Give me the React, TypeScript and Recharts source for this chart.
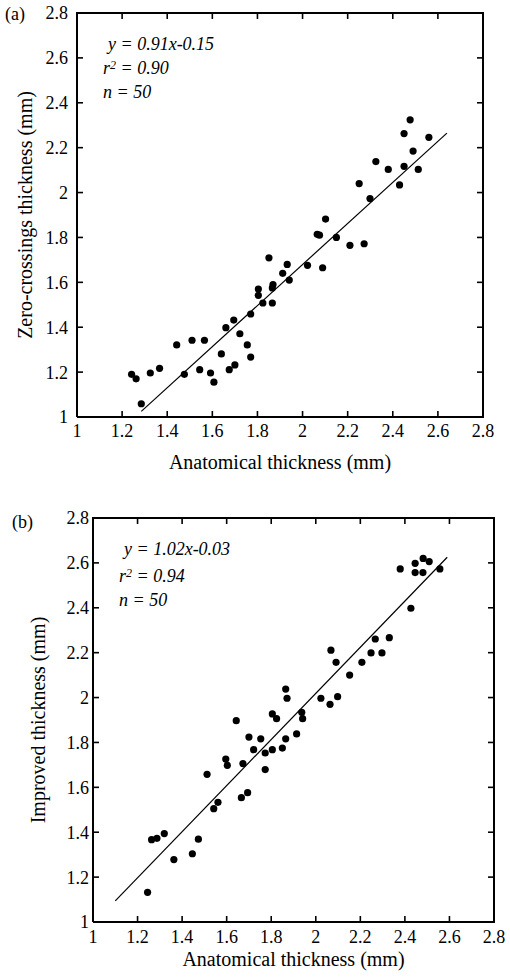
import { ScatterChart, Scatter, XAxis, YAxis, ReferenceLine } from 'recharts'

const serif = '"Liberation Serif", "Times New Roman", serif'

const axisTicks = [1, 1.2, 1.4, 1.6, 1.8, 2, 2.2, 2.4, 2.6, 2.8]
const frameX = [1, 1, 2.8, 2.8, 1]
const frameY = [1, 2.8, 2.8, 1, 1]

// panel (a): anatomical vs zero-crossings thickness
const anatomicalA = [
  1.242, 1.262, 1.285, 1.325, 1.366, 1.442, 1.476, 1.51, 1.544, 1.565,
  1.592, 1.607, 1.64, 1.66, 1.675, 1.695, 1.7, 1.722, 1.755, 1.77,
  1.77, 1.804, 1.804, 1.824, 1.851, 1.866, 1.869, 1.866, 1.912, 1.932,
  1.941, 2.022, 2.089, 2.065, 2.075, 2.102, 2.15, 2.21, 2.273, 2.251,
  2.299, 2.325, 2.38, 2.43, 2.45, 2.45, 2.477, 2.49, 2.513, 2.56,
]
const zeroCrossingA = [
  1.19, 1.17, 1.059, 1.196, 1.217, 1.321, 1.19, 1.342, 1.211, 1.342,
  1.196, 1.155, 1.281, 1.398, 1.211, 1.432, 1.232, 1.371, 1.321, 1.267,
  1.459, 1.57, 1.542, 1.508, 1.709, 1.508, 1.59, 1.575, 1.64, 1.68,
  1.61, 1.676, 1.665, 1.814, 1.81, 1.882, 1.8, 1.765, 1.772, 2.04,
  1.973, 2.138, 2.103, 2.034, 2.117, 2.263, 2.324, 2.185, 2.103, 2.246,
]
const fitXA = [1.285, 2.64]
const fitYA = [1.025, 2.265]

// panel (b): anatomical vs improved thickness
const anatomicalB = [
  1.245, 1.263, 1.287, 1.32, 1.363, 1.446, 1.473, 1.512, 1.542, 1.561,
  1.596, 1.603, 1.643, 1.666, 1.673, 1.694, 1.7, 1.721, 1.753, 1.773,
  1.773, 1.805, 1.805, 1.824, 1.85, 1.865, 1.914, 1.865, 1.871, 1.937,
  1.941, 2.023, 2.064, 2.098, 2.068, 2.091, 2.152, 2.207, 2.248, 2.267,
  2.297, 2.33, 2.427, 2.379, 2.446, 2.446, 2.481, 2.482, 2.509, 2.557,
]
const improvedB = [
  1.132, 1.367, 1.373, 1.394, 1.278, 1.304, 1.369, 1.658, 1.505, 1.533,
  1.726, 1.698, 1.897, 1.554, 1.706, 1.576, 1.824, 1.768, 1.816, 1.679,
  1.753, 1.768, 1.927, 1.906, 1.775, 1.816, 1.838, 2.038, 1.997, 1.934,
  1.906, 1.997, 1.97, 2.004, 2.211, 2.157, 2.1, 2.157, 2.199, 2.261,
  2.199, 2.267, 2.398, 2.573, 2.598, 2.557, 2.557, 2.62, 2.606, 2.573,
]
const fitXB = [1.1, 2.59]
const fitYB = [1.094, 2.625]

const zip = (xs: number[], ys: number[]) => xs.map((x, i) => ({ x, y: ys[i] }))

// inward tick marks on all four sides of the box
const bottomEdge = axisTicks.map((t) => ({ x: t, y: 1 }))
const topEdge = axisTicks.map((t) => ({ x: t, y: 2.8 }))
const leftEdge = axisTicks.map((t) => ({ x: 1, y: t }))
const rightEdge = axisTicks.map((t) => ({ x: 2.8, y: t }))

const T = 6
const tickProps = { stroke: '#000', strokeWidth: 1.6 }
const TickUp = (p: any) => <line x1={p.cx} x2={p.cx} y1={p.cy} y2={p.cy - T} {...tickProps} />
const TickDown = (p: any) => <line x1={p.cx} x2={p.cx} y1={p.cy} y2={p.cy + T} {...tickProps} />
const TickRight = (p: any) => <line x1={p.cx} x2={p.cx + T} y1={p.cy} y2={p.cy} {...tickProps} />
const TickLeft = (p: any) => <line x1={p.cx} x2={p.cx - T} y1={p.cy} y2={p.cy} {...tickProps} />

const Dot = (props: any) => <circle cx={props.cx} cy={props.cy} r={3.6} fill="#000" />
const NoDot = () => <g />

const tickStyle = { fill: '#000', fontSize: 18, fontFamily: serif }
const axisLineStyle = { stroke: '#000', strokeWidth: 2 }

interface PanelProps {
  top: number
  height: number
  margin: { top: number; right: number; bottom: number; left: number }
  yAxisWidth: number
  xAxisHeight: number
  points: { x: number; y: number }[]
  fit: { x: number; y: number }[]
  yLabel: string
  yLabelOffset: number
  yTickMargin: number
  xTickMargin: number
  xLabelOffset: number
}

function Panel(p: PanelProps) {
  return (
    <div style={{ position: 'absolute', left: 0, top: p.top }}>
      <ScatterChart width={510} height={p.height} margin={p.margin}>
        <XAxis
          type="number"
          dataKey="x"
          domain={[1, 2.8]}
          ticks={axisTicks}
          height={p.xAxisHeight}
          axisLine={axisLineStyle}
          tickLine={false}
          tickSize={0}
          tickMargin={p.xTickMargin}
          tick={tickStyle}
          label={{
            value: 'Anatomical thickness (mm)',
            position: 'insideBottom',
            offset: p.xLabelOffset,
            style: { fill: '#000', fontSize: 20, fontFamily: serif },
          }}
        />
        <YAxis
          type="number"
          dataKey="y"
          domain={[1, 2.8]}
          ticks={axisTicks}
          width={p.yAxisWidth}
          axisLine={axisLineStyle}
          tickLine={false}
          tickSize={0}
          tickMargin={p.yTickMargin}
          tick={tickStyle}
          label={{
            value: p.yLabel,
            angle: -90,
            position: 'insideLeft',
            offset: p.yLabelOffset,
            style: { fill: '#000', fontSize: 20, fontFamily: serif, textAnchor: 'middle' },
          }}
        />
        <ReferenceLine y={2.8} stroke="#000" strokeWidth={2} />
        <ReferenceLine x={2.8} stroke="#000" strokeWidth={2} />
        <Scatter data={zip(frameX, frameY)} line={{ stroke: '#000', strokeWidth: 2 }} shape={NoDot} isAnimationActive={false} />
        <Scatter data={bottomEdge} shape={TickUp} isAnimationActive={false} />
        <Scatter data={topEdge} shape={TickDown} isAnimationActive={false} />
        <Scatter data={leftEdge} shape={TickRight} isAnimationActive={false} />
        <Scatter data={rightEdge} shape={TickLeft} isAnimationActive={false} />
        <Scatter data={p.points} shape={Dot} isAnimationActive={false} />
        <Scatter data={p.fit} line={{ stroke: '#000', strokeWidth: 1.2 }} shape={NoDot} isAnimationActive={false} />
      </ScatterChart>
    </div>
  )
}

const textBase = { position: 'absolute' as const, fontFamily: serif, fontSize: 18, lineHeight: '18px', color: '#000', whiteSpace: 'nowrap' as const }
const ital = { ...textBase, fontStyle: 'italic' as const }
const sup = { fontSize: 12, verticalAlign: 'top', lineHeight: '12px' }

export default function App() {
  return (
    <div style={{ position: 'absolute', left: 0, top: 0, width: 510, height: 979, background: '#fff' }}>
      <Panel
        top={0}
        height={480}
        margin={{ top: 13, right: 27, bottom: 0, left: 0 }}
        yAxisWidth={77}
        xAxisHeight={63}
        points={zip(anatomicalA, zeroCrossingA)}
        fit={zip(fitXA, fitYA)}
        yLabel="Zero-crossings thickness (mm)"
        yLabelOffset={25}
        yTickMargin={9}
        xTickMargin={7}
        xLabelOffset={11}
      />
      <Panel
        top={480}
        height={499}
        margin={{ top: 38, right: 16, bottom: 0, left: 0 }}
        yAxisWidth={93}
        xAxisHeight={57}
        points={zip(anatomicalB, improvedB)}
        fit={zip(fitXB, fitYB)}
        yLabel="Improved thickness (mm)"
        yLabelOffset={38}
        yTickMargin={4}
        xTickMargin={8}
        xLabelOffset={13}
      />
      <div style={{ ...textBase, left: 5, top: 5 }}>(a)</div>
      <div style={{ ...textBase, left: 12, top: 513 }}>(b)</div>

      <div style={{ ...ital, left: 108, top: 35 }}>y = 0.91x-0.15</div>
      <div style={{ ...ital, left: 103, top: 59 }}>r<span style={sup}>2</span> = 0.90</div>
      <div style={{ ...ital, left: 103, top: 83 }}>n = 50</div>

      <div style={{ ...ital, left: 124, top: 540 }}>y = 1.02x-0.03</div>
      <div style={{ ...ital, left: 119, top: 567 }}>r<span style={sup}>2</span> = 0.94</div>
      <div style={{ ...ital, left: 119, top: 591 }}>n = 50</div>
    </div>
  )
}
